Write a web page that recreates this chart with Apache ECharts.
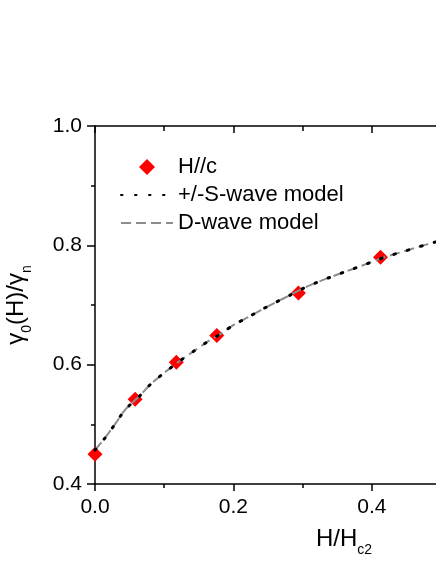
<!DOCTYPE html>
<html>
<head>
<meta charset="utf-8">
<script src="https://cdn.jsdelivr.net/npm/echarts@6/dist/echarts.min.js"></script>
<style>
  html, body { margin: 0; padding: 0; background: #fff; }
  #chart { width: 436px; height: 564px; }
</style>
</head>
<body>
<div id="chart"></div>
<script>
// measured points, H//c
const fieldRatio = [0, 0.058, 0.1175, 0.176, 0.294, 0.4126];
const gammaRatio = [0.450, 0.542, 0.604, 0.649, 0.720, 0.780];

// model curves (both fits lie on top of each other)
const curveH = [0, 0.015, 0.030, 0.044, 0.064, 0.081, 0.102, 0.121, 0.142, 0.162, 0.182, 0.201,
  0.222, 0.242, 0.262, 0.281, 0.301, 0.321, 0.341, 0.362, 0.381, 0.402, 0.421, 0.441, 0.461, 0.481, 0.50];
const sWave = [0.457, 0.478, 0.502, 0.525, 0.547, 0.568, 0.588, 0.605, 0.622, 0.638, 0.652, 0.667,
  0.680, 0.693, 0.705, 0.716, 0.728, 0.738, 0.747, 0.756, 0.764, 0.773, 0.781, 0.788, 0.795, 0.802, 0.808];
const dWave = [0.457, 0.478, 0.502, 0.525, 0.547, 0.568, 0.588, 0.605, 0.622, 0.638, 0.652, 0.667,
  0.680, 0.693, 0.705, 0.716, 0.728, 0.738, 0.747, 0.756, 0.764, 0.773, 0.781, 0.788, 0.795, 0.802, 0.808];

const legendNames = ["H//c", "+/-S-wave model", "D-wave model"];
const yTicks = [0.4, 0.6, 0.8, 1.0];
const xTicks = [0.0, 0.2, 0.4];

const FONT = "'Liberation Sans', Arial, sans-serif";

let myChart = echarts.init(document.getElementById("chart"));

const pairs = (xs, ys) => xs.map((x, i) => [x, ys[i]]);

let option = {
    animation: false,
    textStyle: { fontFamily: FONT, color: "#000" },
    grid: {
        left: 95,
        top: 126,
        width: 346,
        bottom: 80,
        containLabel: false,
        // the frame runs past the right edge of the picture, keep it that way
        outerBoundsMode: "none",
    },
    legend: {
        data: [
            // diamond keeps its aspect inside the wide icon box
            { name: legendNames[0], icon: "path://M0,-1L1,0L0,1L-1,0Z" },
            { name: legendNames[1], itemStyle: { opacity: 0 } },
            { name: legendNames[2], itemStyle: { opacity: 0 } },
        ],
        orient: "vertical",
        left: 120,
        top: 156,
        padding: 0,
        itemGap: 6,
        itemWidth: 52,
        itemHeight: 16,
        symbolKeepAspect: true,
        textStyle: { fontFamily: FONT, fontSize: 22, lineHeight: 22, color: "#000" },
    },
    xAxis: [
        {
            type: "value",
            position: "bottom",
            min: 0,
            max: 0.5,
            interval: 0.2,
            axisLine: { lineStyle: { color: "#000", width: 1.5 } },
            axisTick: { inside: false, length: 7, lineStyle: { color: "#000", width: 1.5 } },
            minorTick: { show: true, splitNumber: 2, length: 4, lineStyle: { color: "#000", width: 1.5 } },
            axisLabel: {
                fontFamily: FONT,
                fontSize: 21,
                color: "#000",
                margin: 13,
                showMaxLabel: false,
                formatter: (v) => (xTicks.some((t) => Math.abs(t - v) < 1e-9) ? v.toFixed(1) : ""),
            },
            splitLine: { show: false },
        },
        {
            type: "value",
            position: "top",
            min: 0,
            max: 0.5,
            interval: 0.2,
            axisLine: { lineStyle: { color: "#000", width: 1.5 } },
            axisTick: { inside: true, length: 7, lineStyle: { color: "#000", width: 1.5 } },
            minorTick: { show: true, splitNumber: 2, length: 5, lineStyle: { color: "#000", width: 1.5 } },
            axisLabel: { show: false },
            splitLine: { show: false },
        },
    ],
    yAxis: {
        type: "value",
        min: 0.4,
        max: 1.0,
        interval: 0.2,
        name: "{a|γ}{s|0}{a|(H)/γ}{s|n}",
        nameLocation: "middle",
        nameRotate: 90,
        nameGap: 61,
        nameTextStyle: {
            fontFamily: FONT,
            color: "#000",
            rich: {
                a: { fontFamily: FONT, fontSize: 24, color: "#000", verticalAlign: "top" },
                s: { fontFamily: FONT, fontSize: 14, color: "#000", verticalAlign: "top", padding: [16, 0, 0, 0] },
            },
        },
        axisLine: { show: true, lineStyle: { color: "#000", width: 1.5 } },
        axisTick: { show: true, inside: false, length: 8, lineStyle: { color: "#000", width: 1.5 } },
        minorTick: { show: true, splitNumber: 2, length: 4, lineStyle: { color: "#000", width: 1.5 } },
        axisLabel: {
            fontFamily: FONT,
            fontSize: 21,
            color: "#000",
            margin: 13,
            formatter: (v) => (yTicks.some((t) => Math.abs(t - v) < 1e-9) ? v.toFixed(1) : ""),
        },
        splitLine: { show: false },
    },
    graphic: [
        {
            type: "text",
            left: 316,
            top: 527,
            style: {
                text: "{a|H/H}{s|c2}",
                fontFamily: FONT,
                rich: {
                    a: { fontFamily: FONT, fontSize: 24, fill: "#000", verticalAlign: "top" },
                    s: { fontFamily: FONT, fontSize: 14, fill: "#000", verticalAlign: "top", padding: [16, 0, 0, 0] },
                },
            },
        },
    ],
    series: [
        {
            name: legendNames[0],
            type: "scatter",
            symbol: "diamond",
            symbolSize: 15,
            itemStyle: { color: "#ff0000", opacity: 1 },
            z: 2,
            data: pairs(fieldRatio, gammaRatio),
        },
        {
            name: legendNames[2],
            type: "line",
            symbol: "none",
            smooth: 0.3,
            itemStyle: { color: "#8c8c8c" },
            lineStyle: { color: "#8c8c8c", width: 2, type: [10, 5] },
            z: 3,
            data: pairs(curveH, dWave),
        },
        {
            name: legendNames[1],
            type: "line",
            symbol: "none",
            smooth: 0.3,
            itemStyle: { color: "#000" },
            lineStyle: { color: "#000", width: 3, type: [1.5, 12.5], cap: "round" },
            z: 4,
            data: pairs(curveH, sWave),
        },
    ],
};

myChart.setOption(option);
window.addEventListener("resize", function () {
    myChart.resize();
});
</script>
</body>
</html>
